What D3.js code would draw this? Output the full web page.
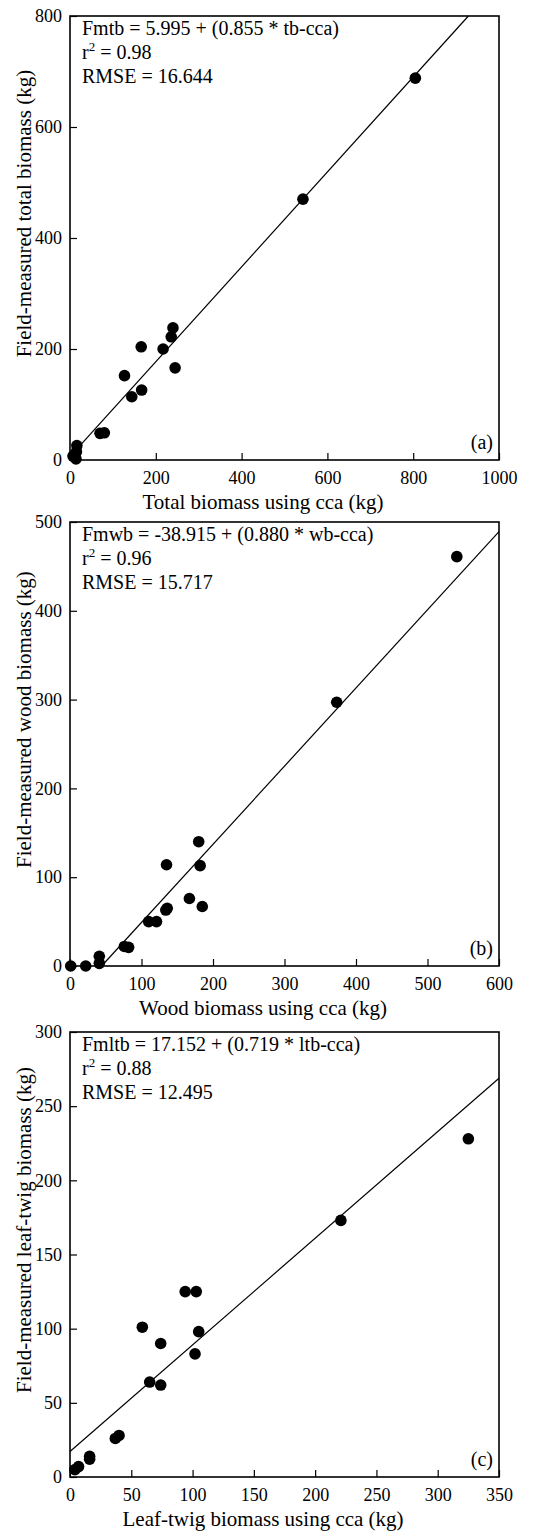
<!DOCTYPE html>
<html>
<head>
<meta charset="utf-8">
<script src="https://cdn.jsdelivr.net/npm/d3@7"></script>
<style>
  body { margin: 0; background: #fff; }
  svg text { font-family: "Liberation Serif", "Times New Roman", serif; fill: #000; }
</style>
</head>
<body>
<div id="plot"></div>
<script>
// Values (kg)

// (a) total biomass
const tbCca = [805, 543, 240, 236, 166, 217, 245, 127, 167, 144, 70, 80, 16, 15, 12, 14, 7];
const tbField = [688, 470, 238, 222, 204, 200, 166, 152, 126, 114, 48, 49, 26, 15, 6, 2, 7];

// (b) wood biomass
const wbCca = [541, 373, 180, 135, 182, 167, 185, 136, 134, 110, 121, 76, 82, 41, 41, 22, 1];
const wbField = [461, 297, 140, 114, 113, 76, 67, 65, 63, 50, 50, 22, 21, 11, 3, 0, 0];

// (c) leaf-twig biomass
const ltbCca = [325, 221, 94, 103, 59, 74, 105, 102, 65, 74, 40, 37, 16, 16, 7, 4];
const ltbField = [228, 173, 125, 125, 101, 90, 98, 83, 64, 62, 28, 26, 14, 12, 7, 5];

// regression lines: [intercept, slope]
const fitA = [5.995, 0.855];
const fitB = [-38.915, 0.880];
const fitC = [17.152, 0.719];

// equation text
const eqA = ["Fmtb = 5.995 + (0.855 * tb-cca)", "0.98", "RMSE = 16.644"];
const eqB = ["Fmwb = -38.915 + (0.880 * wb-cca)", "0.96", "RMSE = 15.717"];
const eqC = ["Fmltb = 17.152 + (0.719 * ltb-cca)", "0.88", "RMSE = 12.495"];

// axis ticks
const ticksAx = [0, 200, 400, 600, 800, 1000];
const ticksAy = [0, 200, 400, 600, 800];
const ticksBx = [0, 100, 200, 300, 400, 500, 600];
const ticksBy = [0, 100, 200, 300, 400, 500];
const ticksCx = [0, 50, 100, 150, 200, 250, 300, 350];
const ticksCy = [0, 50, 100, 150, 200, 250, 300];

const width = 544;
const height = 1531;
const left = 70, right = 499;

const svg = d3.select("#plot")
  .append("svg")
  .attr("width", width)
  .attr("height", height);

const makePanel = (opt) => {
  const x = d3.scaleLinear([0, d3.max(opt.xTicks)], [left, right]);
  const y = d3.scaleLinear([0, d3.max(opt.yTicks)], [opt.bottom, opt.top]);
  const g = svg.append("g");

  // axes, ticks pointing inside
  g.append("g")
    .attr("transform", `translate(0, ${opt.bottom})`)
    .call(d3.axisBottom(x).tickValues(opt.xTicks).tickFormat(d3.format("d"))
      .tickSizeInner(-7).tickSizeOuter(0).tickPadding(11))
    .call(a => a.select(".domain").remove())
    .call(a => a.selectAll("line").attr("stroke", "#000").attr("stroke-width", 1.2))
    .call(a => a.selectAll("text").attr("font-size", 18).attr("font-family", null));

  g.append("g")
    .attr("transform", `translate(${left}, 0)`)
    .call(d3.axisLeft(y).tickValues(opt.yTicks).tickFormat(d3.format("d"))
      .tickSizeInner(-7).tickSizeOuter(0).tickPadding(8))
    .call(a => a.select(".domain").remove())
    .call(a => a.selectAll("line").attr("stroke", "#000").attr("stroke-width", 1.2))
    .call(a => a.selectAll("text").attr("font-size", 18).attr("font-family", null));

  // frame
  g.append("rect")
    .attr("x", left)
    .attr("y", opt.top)
    .attr("width", right - left)
    .attr("height", opt.bottom - opt.top)
    .attr("fill", "none")
    .attr("stroke", "#000")
    .attr("stroke-width", 1.6);

  // regression line, kept inside the frame
  const [a0, b0] = opt.fit;
  const xMax = d3.max(opt.xTicks), yMax = d3.max(opt.yTicks);
  const x1 = Math.max(0, (0 - a0) / b0);
  const x2 = Math.min(xMax, (yMax - a0) / b0);
  g.append("line")
    .attr("x1", x(x1)).attr("y1", y(a0 + b0 * x1))
    .attr("x2", x(x2)).attr("y2", y(a0 + b0 * x2))
    .attr("stroke", "#000")
    .attr("stroke-width", 1.2);

  // points
  g.selectAll("circle")
    .data(opt.xs)
    .join("circle")
      .attr("cx", d => x(d))
      .attr("cy", (d, i) => y(opt.ys[i]))
      .attr("r", 5.8)
      .attr("fill", "#000");

  // equation block
  const eq = g.append("text").attr("font-size", 20);
  eq.append("tspan").attr("x", 82).attr("y", opt.top + 19).text(opt.eq[0]);
  const r2 = eq.append("tspan").attr("x", 82).attr("y", opt.top + 43);
  r2.text("r");
  eq.append("tspan").attr("dy", -8).attr("font-size", 13).text("2");
  eq.append("tspan").attr("dy", 8).text(" = " + opt.eq[1]);
  eq.append("tspan").attr("x", 82).attr("y", opt.top + 67).text(opt.eq[2]);

  // panel letter
  g.append("text")
    .attr("x", right - 6)
    .attr("y", opt.bottom - 11)
    .attr("text-anchor", "end")
    .attr("font-size", 20)
    .text(opt.letter);

  // axis titles
  g.append("text")
    .attr("x", left + 0.45 * (right - left))
    .attr("y", opt.bottom + 49)
    .attr("text-anchor", "middle")
    .attr("font-size", 21)
    .text(opt.xTitle);

  const cy = opt.bottom - 0.555 * (opt.bottom - opt.top);
  g.append("text")
    .attr("transform", `translate(31, ${cy}) rotate(-90)`)
    .attr("text-anchor", "middle")
    .attr("font-size", 21)
    .text(opt.yTitle);
};

makePanel({
  top: 16, bottom: 460, xTicks: ticksAx, yTicks: ticksAy,
  xs: tbCca, ys: tbField, fit: fitA, eq: eqA, letter: "(a)",
  xTitle: "Total biomass using cca (kg)",
  yTitle: "Field-measured total biomass (kg)"
});

makePanel({
  top: 522, bottom: 966, xTicks: ticksBx, yTicks: ticksBy,
  xs: wbCca, ys: wbField, fit: fitB, eq: eqB, letter: "(b)",
  xTitle: "Wood biomass using cca (kg)",
  yTitle: "Field-measured wood biomass (kg)"
});

makePanel({
  top: 1032, bottom: 1477, xTicks: ticksCx, yTicks: ticksCy,
  xs: ltbCca, ys: ltbField, fit: fitC, eq: eqC, letter: "(c)",
  xTitle: "Leaf-twig biomass using cca (kg)",
  yTitle: "Field-measured leaf-twig biomass (kg)"
});
</script>
</body>
</html>
